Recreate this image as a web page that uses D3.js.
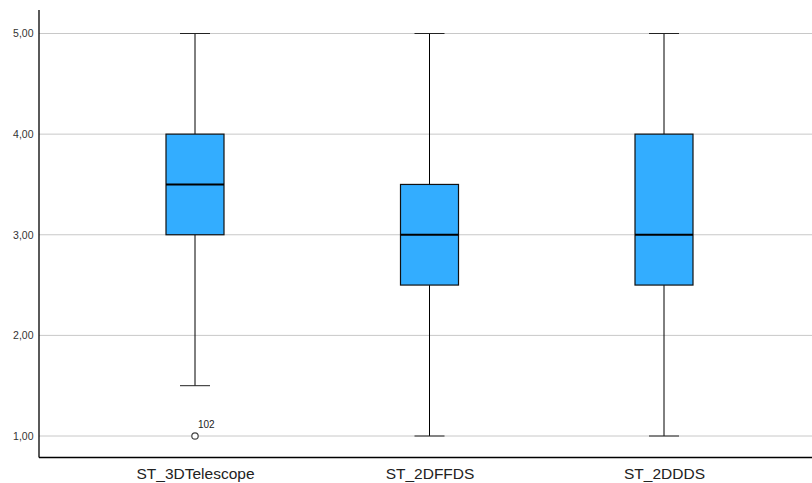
<!DOCTYPE html>
<html><head><meta charset="utf-8">
<script src="https://cdn.jsdelivr.net/npm/d3@7"></script>
<style>body{margin:0;background:#fff}svg{display:block}</style>
</head><body><svg id="c" width="812" height="483"></svg>
<script>
const categories = ["ST_3DTelescope", "ST_2DFFDS", "ST_2DDDS"];
const whiskerLow = [1.5, 1, 1];
const q1 = [3, 2.5, 2.5];
const median = [3.5, 3, 3];
const q3 = [4, 3.5, 4];
const whiskerHigh = [5, 5, 5];
const outliers = [{cat: "ST_3DTelescope", value: 1, label: "102"}];
const yTicks = [1, 2, 3, 4, 5];

const svg = d3.select("#c");
const W = 812, H = 483;
const x0 = 39, yTop = 10, yBottom = 457.5;
const y = d3.scaleLinear().domain([1, 5]).range([436, 33.5]);
const x = d3.scalePoint().domain(categories).range([195, 664]);
const fmt = v => d3.format(".2f")(v).replace(".", ",");
const boxW = 58, capW = 30;

// gridlines
svg.append("g").selectAll("line").data(yTicks).join("line")
  .attr("x1", x0).attr("x2", W).attr("y1", d => y(d)).attr("y2", d => y(d))
  .attr("stroke", "#c8c8c8").attr("stroke-width", 1);

// axes
const yAxis = d3.axisLeft(y).tickValues(yTicks).tickFormat(fmt).tickSize(0).tickPadding(5.5);
const gy = svg.append("g").attr("transform", `translate(${x0},0)`).call(yAxis);
gy.select(".domain").remove();
gy.selectAll("text").attr("font-family", "Liberation Sans, Arial, sans-serif").attr("font-size", 10.5).attr("fill", "#333");
svg.append("line").attr("x1", x0).attr("x2", x0).attr("y1", yTop).attr("y2", yBottom).attr("stroke", "#000").attr("stroke-width", 1.3);
svg.append("line").attr("x1", x0).attr("x2", W).attr("y1", yBottom).attr("y2", yBottom).attr("stroke", "#000").attr("stroke-width", 1.3);

const xAxis = d3.axisBottom(x).tickSize(0).tickPadding(10);
const gx = svg.append("g").attr("transform", `translate(0,${yBottom})`).call(xAxis);
gx.select(".domain").remove();
gx.selectAll("text").attr("font-family", "Liberation Sans, Arial, sans-serif").attr("font-size", 15.5).attr("fill", "#222");

const data = categories.map((c, i) => ({c, lo: whiskerLow[i], q1: q1[i], med: median[i], q3: q3[i], hi: whiskerHigh[i]}));
const g = svg.append("g").selectAll("g").data(data).join("g");
g.append("line").attr("x1", d => x(d.c)).attr("x2", d => x(d.c)).attr("y1", d => y(d.hi)).attr("y2", d => y(d.q3)).attr("stroke", "#000");
g.append("line").attr("x1", d => x(d.c)).attr("x2", d => x(d.c)).attr("y1", d => y(d.q1)).attr("y2", d => y(d.lo)).attr("stroke", "#000");
g.append("line").attr("x1", d => x(d.c) - capW/2).attr("x2", d => x(d.c) + capW/2).attr("y1", d => y(d.hi)).attr("y2", d => y(d.hi)).attr("stroke", "#222");
g.append("line").attr("x1", d => x(d.c) - capW/2).attr("x2", d => x(d.c) + capW/2).attr("y1", d => y(d.lo)).attr("y2", d => y(d.lo)).attr("stroke", "#222");
g.append("rect").attr("x", d => x(d.c) - boxW/2).attr("width", boxW)
  .attr("y", d => y(d.q3)).attr("height", d => y(d.q1) - y(d.q3))
  .attr("fill", "#33adff").attr("stroke", "#111").attr("stroke-width", 1.2);
g.append("line").attr("x1", d => x(d.c) - boxW/2).attr("x2", d => x(d.c) + boxW/2).attr("y1", d => y(d.med)).attr("y2", d => y(d.med)).attr("stroke", "#000").attr("stroke-width", 2);

// outliers
const og = svg.append("g").selectAll("g").data(outliers).join("g");
og.append("circle").attr("cx", d => x(d.cat)).attr("cy", d => y(d.value)).attr("r", 3.2)
  .attr("fill", "#fff").attr("stroke", "#444").attr("stroke-width", 1.2);
og.append("text").attr("x", d => x(d.cat) + 3).attr("y", d => y(d.value) - 8).text(d => d.label)
  .attr("font-family", "Liberation Sans, Arial, sans-serif").attr("font-size", 10).attr("fill", "#222");
</script></body></html>
